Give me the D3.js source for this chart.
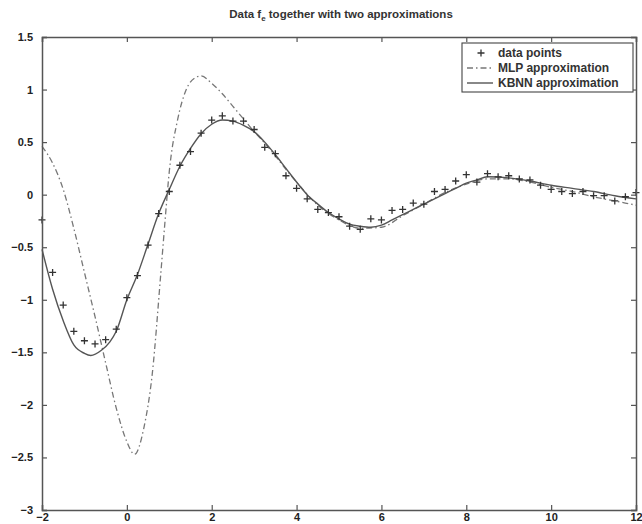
<!DOCTYPE html>
<html>
<head>
<meta charset="utf-8">
<script src="https://cdn.jsdelivr.net/npm/d3@7"></script>
<style>
  body { margin: 0; background: #fff; }
  svg { display: block; }
  text { font-family: "Liberation Sans", Arial, sans-serif; }
</style>
</head>
<body>
<div class="chart"></div>
<script>
// data points f_e (x step 0.25)
var dataX = [-2, -1.75, -1.5, -1.25, -1, -0.75, -0.5, -0.25, 0, 0.25, 0.5, 0.75, 1, 1.25, 1.5, 1.75, 2, 2.25, 2.5, 2.75,
  3, 3.25, 3.5, 3.75, 4, 4.25, 4.5, 4.75, 5, 5.25, 5.5, 5.75, 6, 6.25, 6.5, 6.75, 7, 7.25, 7.5, 7.75,
  8, 8.25, 8.5, 8.75, 9, 9.25, 9.5, 9.75, 10, 10.25, 10.5, 10.75, 11, 11.25, 11.5, 11.75, 12];
var dataY = [-0.24, -0.74, -1.05, -1.30, -1.39, -1.42, -1.38, -1.28, -0.98, -0.77, -0.48, -0.18, 0.03, 0.28, 0.41, 0.585, 0.71, 0.75, 0.70, 0.70,
  0.62, 0.45, 0.39, 0.18, 0.06, -0.04, -0.14, -0.17, -0.21, -0.30, -0.33, -0.23, -0.24, -0.15, -0.14, -0.08, -0.09, 0.03, 0.05, 0.13,
  0.19, 0.12, 0.20, 0.17, 0.18, 0.15, 0.14, 0.09, 0.05, 0.03, 0.01, 0.03, -0.01, -0.01, -0.06, -0.02, 0.02];

// MLP approximation (dash-dot)
var mlpX = [-2, -1.75, -1.5, -1.25, -1, -0.75, -0.5, -0.25, 0, 0.18, 0.4, 0.6, 0.8, 0.9, 1.0, 1.2, 1.4, 1.6, 1.75, 2.0,
  2.25, 2.5, 2.75, 3, 3.25, 3.5, 3.75, 4, 4.5, 5, 5.5, 6, 6.5, 7, 7.5, 8, 8.5, 9, 9.5, 10, 10.5, 11, 11.5, 12];
var mlpY = [0.46, 0.30, 0.05, -0.32, -0.74, -1.16, -1.60, -2.03, -2.35, -2.47, -2.22, -1.70, -0.75, -0.25, 0.22, 0.72, 1.0, 1.11, 1.13, 1.06,
  0.96, 0.84, 0.72, 0.60, 0.49, 0.37, 0.24, 0.12, -0.10, -0.24, -0.32, -0.31, -0.20, -0.09, 0.02, 0.10, 0.15, 0.15, 0.12, 0.07, 0.03, -0.02, -0.06, -0.10];

// KBNN approximation (solid)
var kbnnX = [-2, -1.75, -1.5, -1.25, -1, -0.85, -0.6, -0.4, -0.25, 0, 0.25, 0.5, 0.75, 1, 1.25, 1.5, 1.75, 2, 2.25, 2.5,
  2.75, 3, 3.25, 3.5, 3.75, 4, 4.25, 4.5, 4.75, 5, 5.25, 5.5, 5.75, 6, 6.25, 6.5, 6.75, 7, 7.25, 7.5, 7.75,
  8, 8.25, 8.5, 9, 9.5, 10, 10.5, 11, 11.5, 12];
var kbnnY = [-0.52, -0.90, -1.20, -1.43, -1.51, -1.53, -1.48, -1.40, -1.30, -1.00, -0.76, -0.47, -0.18, 0.05, 0.27, 0.44, 0.58, 0.67, 0.71, 0.70,
  0.66, 0.60, 0.50, 0.38, 0.25, 0.12, 0.00, -0.09, -0.17, -0.23, -0.28, -0.30, -0.31, -0.29, -0.24, -0.19, -0.14, -0.09, -0.04, 0.01, 0.06,
  0.11, 0.14, 0.17, 0.16, 0.13, 0.09, 0.06, 0.03, -0.01, -0.04];

var xTicks = [-2, 0, 2, 4, 6, 8, 10, 12];
var yTicks = [-3, -2.5, -2, -1.5, -1, -0.5, 0, 0.5, 1, 1.5];
var legendLabels = ["data points", "MLP approximation", "KBNN approximation"];

var W = 642, H = 524;
var plotLeft = 42, plotRight = 636, plotTop = 37, plotBottom = 510;

var svg = d3.select(".chart").append("svg")
  .attr("width", W).attr("height", H);

var xScale = d3.scaleLinear().domain([-2, 12]).range([plotLeft, plotRight]);
var yScale = d3.scaleLinear().domain([-3, 1.5]).range([plotBottom, plotTop]);

function zip(xs, ys) {
  return xs.map(function (x, i) { return { x: x, y: ys[i] }; });
}

var line = d3.line()
  .x(function (d) { return xScale(d.x); })
  .y(function (d) { return yScale(d.y); })
  .curve(d3.curveMonotoneX);

// curves
svg.append("path")
  .attr("d", line(zip(mlpX, mlpY)))
  .style("fill", "none")
  .style("stroke", "#777")
  .style("stroke-width", 1.3)
  .style("stroke-dasharray", "6,3,1.5,3");

svg.append("path")
  .attr("d", line(zip(kbnnX, kbnnY)))
  .style("fill", "none")
  .style("stroke", "#555")
  .style("stroke-width", 1.4);

// data markers
var plusPath = "M-3.5,0H3.5M0,-3.5V3.5";
svg.selectAll(".pt")
  .data(zip(dataX, dataY)).enter()
  .append("path")
  .attr("class", "pt")
  .attr("d", plusPath)
  .attr("transform", function (d) { return `translate(${xScale(d.x)},${yScale(d.y)})`; })
  .style("stroke", "#333")
  .style("stroke-width", 1.3)
  .style("fill", "none");

// axes, ticks pointing inward on all sides
var axisColor = "#555";
var minus = function (d) { return String(d).replace("-", "\u2212"); };
var xAxisB = d3.axisBottom(xScale).tickValues(xTicks).tickSize(-5).tickPadding(3).tickFormat(minus);
var xAxisT = d3.axisTop(xScale).tickValues(xTicks).tickSize(-5).tickFormat("");
var yAxisL = d3.axisLeft(yScale).tickValues(yTicks).tickSize(-5).tickPadding(9).tickFormat(minus);
var yAxisR = d3.axisRight(yScale).tickValues(yTicks).tickSize(-5).tickFormat("");

svg.append("g").attr("transform", `translate(0,${plotBottom})`).call(xAxisB);
svg.append("g").attr("transform", `translate(0,${plotTop})`).call(xAxisT);
svg.append("g").attr("transform", `translate(${plotLeft},0)`).call(yAxisL);
svg.append("g").attr("transform", `translate(${plotRight},0)`).call(yAxisR);

svg.selectAll(".domain").style("stroke", axisColor).style("stroke-width", 1.5);
svg.selectAll(".tick line").style("stroke", axisColor).style("stroke-width", 1.2);
svg.selectAll(".tick text")
  .style("font-size", "11px")
  .style("font-weight", "bold")
  .style("fill", "#222");

// title
var title = svg.append("text")
  .attr("x", (plotLeft + plotRight) / 2 + 2)
  .attr("y", 18)
  .attr("text-anchor", "middle")
  .style("font-size", "11.5px")
  .style("font-weight", "bold")
  .style("fill", "#333");
title.append("tspan").text("Data f");
title.append("tspan").attr("dy", 3).style("font-size", "8px").text("e");
title.append("tspan").attr("dy", -3).text(" together with two approximations");

// legend
var lg = svg.append("g");
lg.append("rect")
  .attr("x", 462).attr("y", 43)
  .attr("width", 171).attr("height", 49)
  .style("fill", "#fff")
  .style("stroke", "#444")
  .style("stroke-width", 1.1);

var rowY = [53, 68, 83];
lg.selectAll(".lt")
  .data(legendLabels).enter()
  .append("text")
  .attr("x", 498)
  .attr("y", function (d, i) { return rowY[i] + 4; })
  .style("font-size", "12px")
  .style("font-weight", "bold")
  .style("fill", "#333")
  .text(function (d) { return d; });

lg.append("path")
  .attr("d", plusPath)
  .attr("transform", `translate(481,${rowY[0]})`)
  .style("stroke", "#333").style("stroke-width", 1.3);
lg.append("line")
  .attr("x1", 467).attr("x2", 493).attr("y1", rowY[1]).attr("y2", rowY[1])
  .style("stroke", "#777").style("stroke-width", 1.3)
  .style("stroke-dasharray", "6,3,1.5,3");
lg.append("line")
  .attr("x1", 467).attr("x2", 493).attr("y1", rowY[2]).attr("y2", rowY[2])
  .style("stroke", "#555").style("stroke-width", 1.4);
</script>
</body>
</html>
